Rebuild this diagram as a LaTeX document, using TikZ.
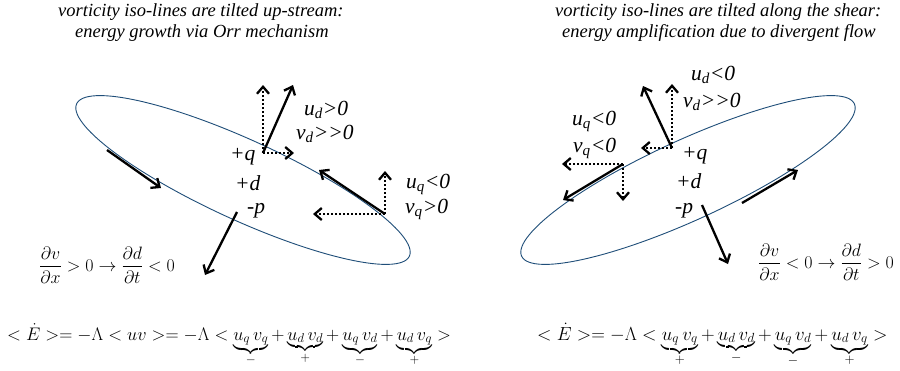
\RequirePackage{fix-cm}
\documentclass[tikz,border=0pt]{standalone}
\usepackage{fontspec}
\setmainfont{Liberation Serif}
\usepackage{amsmath}
\usetikzlibrary{arrows.meta}
\definecolor{ellblue}{RGB}{31,78,121}
\begin{document}
\begin{tikzpicture}[x=1pt,y=-1pt,
  ell/.style={draw=ellblue, line width=0.9pt},
  sarr/.style={line width=2.3pt, -{Straight Barb[length=7pt,width=12pt]}},
  darr/.style={line width=2.3pt, dash pattern=on 2.2pt off 1.8pt, -{Straight Barb[length=7pt,width=12pt]}},
  lab/.style={font=\fontsize{21.5}{24}\selectfont\itshape, inner sep=0pt, anchor=base west},
  ttl/.style={font=\fontsize{18.5}{22}\selectfont\itshape, inner sep=0pt, anchor=base west},
  frc/.style={font=\fontsize{17.9}{22}\selectfont, inner sep=0pt, anchor=west},
  eqn/.style={inner sep=0pt, anchor=base west}
]
\clip (0,0) rectangle (900,370);
\fill[white] (0,0) rectangle (900,370);

% titles
\node[ttl] (tl1) at (58,16) {vorticity iso-lines are tilted up-stream:};
\node[ttl] (tl2) at (75,37) {energy growth via Orr mechanism};
\node[ttl] (tr1) at (555,16) {vorticity iso-lines are tilted along the shear:};
\node[ttl] (tr2) at (562,37) {energy amplification due to divergent flow};

% ellipses
\draw[ell] plot[domain=0:360, samples=120, smooth cycle, variable=\t]
  ({243 + 183*cos(24.6)*cos(\t) - 40*sin(24.6)*sin(\t)},
   {180 + 183*sin(24.6)*cos(\t) + 40*cos(24.6)*sin(\t)});
\draw[ell] plot[domain=0:360, samples=120, smooth cycle, variable=\t]
  ({688 - 183*cos(24.6)*cos(\t) + 40*sin(24.6)*sin(\t)},
   {180 + 183*sin(24.6)*cos(\t) + 40*cos(24.6)*sin(\t)});

% left coordinates
\coordinate (L1s) at (107,150);
\coordinate (L1e) at (161,188);
\coordinate (Lq) at (263,153);
\coordinate (Lqu) at (263,85);
\coordinate (Lqs) at (293,85);
\coordinate (Lqh) at (294,153);
\coordinate (Lr) at (385,214);
\coordinate (Lrs) at (319,170);
\coordinate (Lrv) at (385,171);
\coordinate (Lrh) at (313,214);
\coordinate (Lp) at (237,212);
\coordinate (Lpt) at (205,275);

\draw[sarr] (L1s) -- (L1e);
\draw[darr] (Lq) -- (Lqu);
\draw[darr] (Lq) -- (Lqh);
\draw[sarr] (Lq) -- (Lqs);
\draw[darr] (Lr) -- (Lrv);
\draw[darr] (Lr) -- (Lrh);
\draw[sarr] (Lr) -- (Lrs);
\draw[sarr] (Lp) -- (Lpt);

% right coordinates
\coordinate (Rq) at (672,148);
\coordinate (Rqs) at (643,86);
\coordinate (Rqv) at (672,84);
\coordinate (Rqh) at (641,148);
\coordinate (Rr) at (623,164);
\coordinate (Rrs) at (563,200);
\coordinate (Rrh) at (562,164);
\coordinate (Rrv) at (623,201);
\coordinate (Rb) at (742,203);
\coordinate (Rbt) at (798,170);
\coordinate (Rp) at (702,205);
\coordinate (Rpt) at (728,264);

\draw[darr] (Rq) -- (Rqv);
\draw[darr] (Rq) -- (Rqh);
\draw[sarr] (Rq) -- (Rqs);
\draw[darr] (Rr) -- (Rrh);
\draw[darr] (Rr) -- (Rrv);
\draw[sarr] (Rr) -- (Rrs);
\draw[sarr] (Rb) -- (Rbt);
\draw[sarr] (Rp) -- (Rpt);

% left labels
\node[lab] (lud) at (304,115) {u\textsubscript{d}>0};
\node[lab] (lvd) at (296,139) {v\textsubscript{d}>{}>0};
\node[lab] (lpq) at (230,160) {+q};
\node[lab] (lpd) at (235,190) {+d};
\node[lab] (lmp) at (247,213) {-p};
\node[lab] (luq) at (406,188) {u\textsubscript{q}<0};
\node[lab] (lvq) at (405,213) {v\textsubscript{q}>0};

% right labels
\node[lab] (rud) at (691,80) {u\textsubscript{d}<0};
\node[lab] (rvd) at (683,107) {v\textsubscript{d}>{}>0};
\node[lab] (ruq) at (572,125) {u\textsubscript{q}<0};
\node[lab] (rvq) at (573,152) {v\textsubscript{q}<0};
\node[lab] (rpq) at (682,159) {+q};
\node[lab] (rpd) at (676,188) {+d};
\node[lab] (rmp) at (675,213) {-p};

% math
\node[frc] (lfr) at (39,265)
  {$\displaystyle\frac{\partial v}{\partial x} > 0 \rightarrow \frac{\partial d}{\partial t} < 0$};
\node[frc] (rfr) at (758,262)
  {$\displaystyle\frac{\partial v}{\partial x} < 0 \rightarrow \frac{\partial d}{\partial t} > 0$};

\node[eqn, font=\fontsize{18.2}{22}\selectfont] (leq) at (7,340)
  {$<\dot E>= -\Lambda < uv >= -\Lambda < \underbrace{u_q\,v_q}_{-} + \underbrace{u_d\,v_d}_{+} + \underbrace{u_q\,v_d}_{-} + \underbrace{u_d\,v_q}_{+} >$};
\node[eqn, font=\fontsize{18.9}{22}\selectfont] (req) at (537,340)
  {$<\dot E>= -\Lambda < \underbrace{u_q\,v_q}_{+} + \underbrace{u_d\,v_d}_{-} + \underbrace{u_q\,v_d}_{-} + \underbrace{u_d\,v_q}_{+} >$};
\end{tikzpicture}
\end{document}
